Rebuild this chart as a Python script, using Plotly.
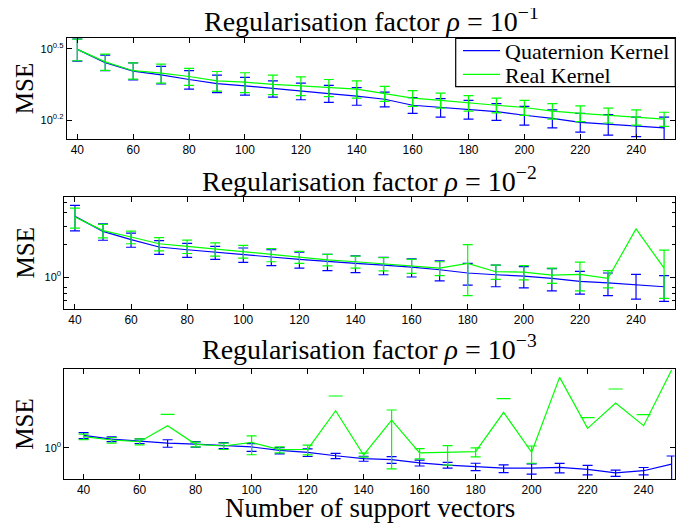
import plotly.graph_objects as go

# The page body has an 8px margin; work in reference pixel coordinates and offset.
OX, OY = 8, 8
W, H = 694 - OX, 525 - OY


def px2x(px):
    return (px - OX) / W


def py2y(py):
    return 1 - (py - OY) / H


n_support = [40, 50, 60, 70, 80, 90, 100, 110, 120, 130, 140, 150,
             160, 170, 180, 190, 200, 210, 220, 230, 240, 250]
x_ticks = [40, 60, 80, 100, 120, 140, 160, 180, 200, 220, 240]

# rho = 1e-1
quat_rho1 = [3.15, 2.77, 2.55, 2.46, 2.35, 2.26, 2.21, 2.15, 2.10, 2.05, 2.00,
             1.94, 1.83, 1.79, 1.76, 1.72, 1.66, 1.61, 1.55, 1.52, 1.49, 1.47]
quat_rho1_err = [0.34, 0.21, 0.21, 0.21, 0.21, 0.19, 0.19, 0.17, 0.17, 0.17, 0.17,
                 0.14, 0.14, 0.16, 0.16, 0.14, 0.15, 0.14, 0.14, 0.15, 0.14, 0.16]
real_rho1 = [3.15, 2.79, 2.56, 2.50, 2.42, 2.32, 2.29, 2.24, 2.21, 2.17, 2.14,
             2.05, 1.96, 1.92, 1.87, 1.83, 1.79, 1.73, 1.69, 1.66, 1.63, 1.60]
real_rho1_err = [0.33, 0.22, 0.20, 0.23, 0.20, 0.22, 0.22, 0.21, 0.20, 0.18, 0.18,
                 0.15, 0.15, 0.14, 0.14, 0.13, 0.13, 0.13, 0.13, 0.12, 0.12, 0.11]

# rho = 1e-2
quat_rho2 = [3.70, 2.68, 2.24, 1.91, 1.80, 1.70, 1.62, 1.54, 1.46, 1.39, 1.34,
             1.29, 1.24, 1.17, 1.09, 1.05, 1.02, 0.97, 0.91, 0.88, 0.84, 0.81]
quat_rho2_err = [0.99, 0.47, 0.34, 0.28, 0.27, 0.24, 0.25, 0.26, 0.25, 0.24, 0.24,
                 0.24, 0.24, 0.25, 0.25, 0.24, 0.23, 0.23, 0.22, 0.21, 0.22, 0.22]
real_rho2 = [3.65, 2.72, 2.37, 2.05, 1.94, 1.83, 1.74, 1.62, 1.54, 1.45, 1.39,
             1.33, 1.27, 1.21, 1.34, 1.12, 1.11, 1.04, 1.06, 0.97, 2.82, 1.21]
real_rho2_err = [0.78, 0.39, 0.32, 0.29, 0.28, 0.26, 0.24, 0.23, 0.20, 0.18, 0.18,
                 0.19, 0.19, 0.18, 0.67, 0.17, 0.17, 0.17, 0.32, 0.18, 3.00, 0.58]

# rho = 1e-3
quat_rho3 = [2.26, 1.77, 1.55, 1.36, 1.27, 1.17, 1.05, 0.84, 0.74, 0.59, 0.49,
             0.455, 0.37, 0.32, 0.29, 0.26, 0.26, 0.275, 0.24, 0.19, 0.22, 0.34]
quat_rho3_err = [0.45, 0.28, 0.23, 0.33, 0.23, 0.22, 0.26, 0.17, 0.18, 0.10, 0.08,
                 0.10, 0.07, 0.06, 0.07, 0.065, 0.085, 0.084, 0.072, 0.038, 0.052, 0.24]
real_rho3 = [2.07, 1.66, 1.49, 4.26, 1.25, 1.12, 1.41, 0.88, 0.90, 11.4, 0.62,
             6.1, 0.71, 0.73, 0.77, 10.2, 0.74, 102.0, 3.57, 18.9, 4.26, 166.0]
real_rho3_err = [0.36, 0.30, 0.29, 4.7, 0.20, 0.23, 0.78, 0.17, 0.28, 18.6, 0.08,
                 5.85, 0.23, 0.41, 0.22, 15.0, 0.38, 150.0, 3.64, 28.6, 4.53, 300.0]

titles = ["Regularisation factor <i>ρ</i> = 10<sup>−1</sup>",
          "Regularisation factor <i>ρ</i> = 10<sup>−2</sup>",
          "Regularisation factor <i>ρ</i> = 10<sup>−3</sup>"]
series_names = ["Quaternion Kernel", "Real Kernel"]
BLUE, GREEN = "#0000ff", "#00ff00"
SERIF = "Liberation Serif, Times New Roman, serif"
SANS = "Liberation Sans, Arial, sans-serif"

panels = [
    dict(q=quat_rho1, qe=quat_rho1_err, r=real_rho1, re=real_rho1_err,
         yrange=[0.12, 0.545], tickvals=[10 ** 0.2, 10 ** 0.5],
         ticktext=["10<sup>0.2</sup>", "10<sup>0.5</sup>"], minor=[],
         xrange=[36.2, 254.0], px=(66.7, 675.3), py=(38.3, 139.0), ty=19.5),
    dict(q=quat_rho2, qe=quat_rho2_err, r=real_rho2, re=real_rho2_err,
         yrange=[-0.30, 0.75], tickvals=[1], ticktext=["10<sup>0</sup>"],
         minor=[0.6, 0.7, 0.8, 2, 3, 4, 5],
         xrange=[36.2, 254.0], px=(64.3, 675.3), py=(197.0, 309.0), ty=179.5),
    dict(q=quat_rho3, qe=quat_rho3_err, r=real_rho3, re=real_rho3_err,
         yrange=[-0.894, 2.24], tickvals=[1], ticktext=["10<sup>0</sup>"],
         minor=[],
         xrange=[33.1, 251.1], px=(64.3, 674.7), py=(369.3, 479.0), ty=347.5),
]

fig = go.Figure()
layout = {}
annotations = []
shapes = []

for i, p in enumerate(panels):
    sfx = "" if i == 0 else str(i + 1)
    xa, ya = "x" + sfx, "y" + sfx
    for name, vals, errs, col in [(series_names[0], p["q"], p["qe"], BLUE),
                                  (series_names[1], p["r"], p["re"], GREEN)]:
        fig.add_trace(go.Scatter(x=n_support, y=vals, mode="lines", name=name,
                                 line=dict(color=col, width=1.2),
                                 showlegend=False, xaxis=xa, yaxis=ya,
                                 hoverinfo="skip"))
        ok = [k for k in range(len(vals)) if errs[k] < vals[k]]
        bad = [k for k in range(len(vals)) if errs[k] >= vals[k]]
        fig.add_trace(go.Scatter(
            x=[n_support[k] for k in ok], y=[vals[k] for k in ok],
            mode="markers", marker=dict(size=1, color="rgba(0,0,0,0)"),
            error_y=dict(type="data", array=[errs[k] for k in ok],
                         color=col, thickness=1.2, width=5),
            showlegend=False, xaxis=xa, yaxis=ya, hoverinfo="skip"))
        if bad:
            # lower bound <= 0 on a log axis: only the upper cap is drawable
            fig.add_trace(go.Scatter(
                x=[n_support[k] for k in bad],
                y=[vals[k] + errs[k] for k in bad],
                mode="markers", cliponaxis=True,
                marker=dict(symbol="line-ew", size=10,
                            line=dict(color=col, width=1.2)),
                showlegend=False, xaxis=xa, yaxis=ya, hoverinfo="skip"))

    xd = [px2x(p["px"][0]), px2x(p["px"][1])]
    yd = [py2y(p["py"][1]), py2y(p["py"][0])]
    common = dict(showline=True, linecolor="black", linewidth=1, mirror="allticks",
                  ticks="inside", ticklen=5, tickcolor="black", showgrid=False,
                  zeroline=False,
                  tickfont=dict(family=SANS, size=12, color="black"))
    layout["xaxis" + sfx] = dict(common, domain=xd, range=p["xrange"],
                                 tickvals=x_ticks, anchor=ya)
    yax = dict(common, domain=yd, type="log", range=p["yrange"],
               tickvals=p["tickvals"], ticktext=p["ticktext"], anchor=xa)
    yax["tickfont"] = dict(family=SANS, size=11, color="black")
    if p["minor"]:
        yax["minor"] = dict(tickvals=p["minor"], ticks="inside", ticklen=3,
                            tickcolor="black")
    layout["yaxis" + sfx] = yax

    cx = (p["px"][0] + p["px"][1]) / 2
    annotations.append(dict(text=titles[i], x=px2x(cx), y=py2y(p["ty"]),
                            xref="paper", yref="paper", showarrow=False,
                            xanchor="center", yanchor="middle",
                            font=dict(family=SERIF, size=28, color="black")))
    my = (p["py"][0] + p["py"][1]) / 2
    annotations.append(dict(text="MSE", x=px2x(24.5), y=py2y(my), xref="paper",
                            yref="paper", showarrow=False, textangle=-90,
                            xanchor="center", yanchor="middle",
                            font=dict(family=SERIF, size=25, color="black")))

annotations.append(dict(text="Number of support vectors", x=px2x(369.5),
                        y=py2y(508), xref="paper", yref="paper", showarrow=False,
                        xanchor="center", yanchor="middle",
                        font=dict(family=SERIF, size=27, color="black")))

# legend box (top-right of first panel)
shapes.append(dict(type="rect", xref="paper", yref="paper",
                   x0=px2x(455.7), x1=px2x(675.3), y0=py2y(86.7), y1=py2y(38.3),
                   line=dict(color="black", width=1.2), fillcolor="white",
                   layer="above"))
for name, col, ly in [(series_names[0], BLUE, 50.7), (series_names[1], GREEN, 74.3)]:
    shapes.append(dict(type="line", xref="paper", yref="paper",
                       x0=px2x(463), x1=px2x(500), y0=py2y(ly), y1=py2y(ly),
                       line=dict(color=col, width=1.2), layer="above"))
    annotations.append(dict(text=name, x=px2x(503), y=py2y(ly + 1), xref="paper",
                            yref="paper", showarrow=False, xanchor="left",
                            yanchor="middle",
                            font=dict(family=SERIF, size=22, color="black")))

fig.update_layout(
    width=W, height=H, margin=dict(l=0, r=0, t=0, b=0),
    paper_bgcolor="white", plot_bgcolor="white",
    annotations=annotations, shapes=shapes, showlegend=False,
    **layout,
)

fig.write_html("out.html")
